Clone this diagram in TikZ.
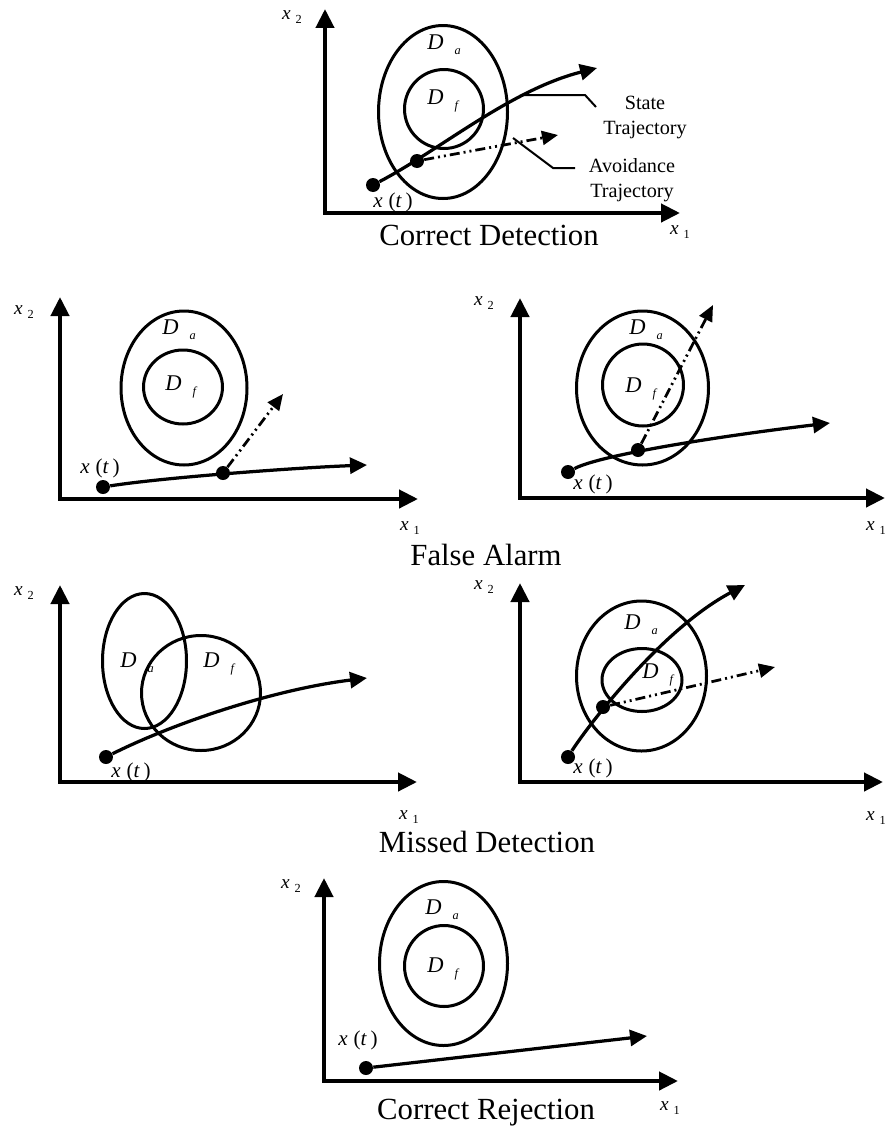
\documentclass[tikz,border=0pt]{standalone}
\usepackage{fontspec}
\setmainfont{Liberation Serif}
\usetikzlibrary{arrows.meta}
\newcommand{\reglbl}[2]{\textit{#1}\hspace{0.22cm}\raisebox{-0.1cm}{\fontsize{7}{8}\selectfont\textit{#2}}}
\newcommand{\axlbl}[1]{\textit{x}\hspace{0.1cm}\raisebox{-0.08cm}{\fontsize{7}{8}\selectfont #1}}
\newcommand{\statelbl}{\textit{x}\;(\textit{t}\,)}
\tikzset{
  axis/.style={line width=0.085cm,line join=miter,{Triangle[length=0.38cm,width=0.36cm]}-{Triangle[length=0.38cm,width=0.36cm]}},
  traj/.style={line width=0.065cm,-{Triangle[length=0.34cm,width=0.32cm]}},
  avoid/.style={line width=0.055cm,dash pattern=on 0.2cm off 0.08cm on 0.04cm off 0.08cm on 0.04cm off 0.08cm,-{Triangle[length=0.32cm,width=0.28cm]}},
  region/.style={line width=0.06cm},
  dot/.style={circle,fill,inner sep=0,minimum size=0.28cm},
  lead/.style={line width=0.04cm},
  reg/.style={anchor=base west,inner sep=0,font=\fontsize{12.8}{14}\selectfont},
  ax/.style={font=\fontsize{11}{12}\selectfont,inner sep=0},
  xt/.style={font=\fontsize{12}{13}\selectfont,inner sep=0},
  caption/.style={font=\fontsize{17.5}{20}\selectfont,inner sep=0},
  note/.style={align=center,font=\fontsize{11.5}{14.2}\selectfont,inner sep=0}
}
\begin{document}
\begin{tikzpicture}[x=0.02cm,y=-0.02cm]
  \fill[white] (0,0) rectangle (888,1136);

  % correct detection
  \coordinate (o1) at (325,213);
  \coordinate (y1) at (325,9);
  \coordinate (x1) at (680,213);
  \draw[axis] (y1) -- (o1) -- (x1);
  \node[ax] (lx21) at (292,17) {\axlbl{2}};
  \node[ax] (lx11) at (680,232) {\axlbl{1}};
  \draw[region] (443,112) ellipse [x radius=64.5,y radius=86.5];
  \draw[region] (444,109) ellipse [x radius=39.5,y radius=39.5];
  \node[reg] (da1) at (427,49.5) {\reglbl{D}{a}};
  \node[reg] (df1) at (427,104.5) {\reglbl{D}{f}};
  \node[dot] (s1) at (373,185) {};
  \node[dot] (m1) at (417,161) {};
  \node[xt] (xt1) at (393,202) {\statelbl};
  \coordinate (e1) at (597,68);
  \coordinate (a1) at (558,135);
  \draw[traj] (s1) .. controls (440,150) and (510,90) .. (e1);
  \draw[avoid] (m1) -- (a1);
  \coordinate (ls) at (522,95);
  \coordinate (la) at (513,138);
  \draw[lead] (ls) -- ++(63,0) -- ++(11,12);
  \draw[lead] (la) -- ++(40,30) -- ++(22,0);
  \node[note] (nst) at (645,117.5) {State\\Trajectory};
  \node[note] (nav) at (632,180.5) {Avoidance\\Trajectory};
  \node[caption] (cap1) at (489,235) {Correct Detection};

  % false alarm, left
  \coordinate (o2) at (60,499);
  \coordinate (y2) at (60,297);
  \coordinate (x2) at (418,499);
  \draw[axis] (y2) -- (o2) -- (x2);
  \node[ax] (lx22) at (24,312) {\axlbl{2}};
  \node[ax] (lx12) at (410,528) {\axlbl{1}};
  \draw[region] (184,388) ellipse [x radius=63,y radius=77];
  \draw[region] (183,387) ellipse [x radius=39.5,y radius=37];
  \node[reg] (da2) at (162,334.5) {\reglbl{D}{a}};
  \node[reg] (df2) at (165,390.5) {\reglbl{D}{f}};
  \node[dot] (s2) at (103,487) {};
  \node[dot] (m2) at (223,473) {};
  \node[xt] (xt2) at (100,468) {\statelbl};
  \coordinate (e2) at (367,465);
  \coordinate (a2) at (283,394);
  \draw[traj] (s2) .. controls (160,478) and (290,468) .. (e2);
  \draw[avoid] (m2) -- (a2);

  % false alarm, right
  \coordinate (o3) at (520,498);
  \coordinate (y3) at (520,298);
  \coordinate (x3) at (885,498);
  \draw[axis] (y3) -- (o3) -- (x3);
  \node[ax] (lx23) at (484,303) {\axlbl{2}};
  \node[ax] (lx13) at (876,528) {\axlbl{1}};
  \draw[region] (642.5,388) ellipse [x radius=66,y radius=77];
  \draw[region] (643,385) ellipse [x radius=40.5,y radius=41];
  \node[reg] (da3) at (629,334.5) {\reglbl{D}{a}};
  \node[reg] (df3) at (625,392.5) {\reglbl{D}{f}};
  \node[dot] (s3) at (568,472) {};
  \node[dot] (m3) at (638,450) {};
  \node[xt] (xt3) at (593,484) {\statelbl};
  \coordinate (e3) at (830,423);
  \coordinate (a3) at (713,305);
  \draw[traj] (s3) .. controls (600,455) and (720,436) .. (e3);
  \draw[avoid] (m3) -- (a3);
  \node[caption] (cap2) at (486,555) {False Alarm};

  % missed detection, left
  \coordinate (o4) at (60,782);
  \coordinate (y4) at (60,585);
  \coordinate (x4) at (417,782);
  \draw[axis] (y4) -- (o4) -- (x4);
  \node[ax] (lx24) at (24,593) {\axlbl{2}};
  \node[ax] (lx14) at (409,817) {\axlbl{1}};
  \draw[region] (144.5,661) ellipse [x radius=42,y radius=67.5];
  \draw[region] (201,693) ellipse [x radius=59.5,y radius=57.5];
  \node[reg] (da4) at (120,667.5) {\reglbl{D}{a}};
  \node[reg] (df4) at (203,667.5) {\reglbl{D}{f}};
  \node[dot] (s4) at (106,757) {};
  \node[xt] (xt4) at (131,772) {\statelbl};
  \coordinate (e4) at (367,678);
  \draw[traj] (s4) .. controls (170,725) and (270,690) .. (e4);

  % missed detection, right
  \coordinate (o5) at (520,782);
  \coordinate (y5) at (520,583);
  \coordinate (x5) at (883,782);
  \draw[axis] (y5) -- (o5) -- (x5);
  \node[ax] (lx25) at (484,587) {\axlbl{2}};
  \node[ax] (lx15) at (876,818) {\axlbl{1}};
  \draw[region] (641.5,676) ellipse [x radius=65,y radius=75];
  \draw[region] (642,680) ellipse [x radius=40,y radius=31.5];
  \node[reg] (da5) at (624,629.5) {\reglbl{D}{a}};
  \node[reg] (df5) at (642,678.5) {\reglbl{D}{f}};
  \node[dot] (s5) at (568,757) {};
  \node[dot] (m5) at (603,707) {};
  \node[xt] (xt5) at (593,768) {\statelbl};
  \coordinate (e5) at (745,585);
  \coordinate (a5) at (775,667);
  \draw[traj] (s5) .. controls (585,730) and (660,630) .. (e5);
  \draw[avoid] (m5) -- (a5);
  \node[caption] (cap3) at (487,842) {Missed Detection};

  % correct rejection
  \coordinate (o6) at (324,1081);
  \coordinate (y6) at (324,878);
  \coordinate (x6) at (678,1081);
  \draw[axis] (y6) -- (o6) -- (x6);
  \node[ax] (lx26) at (291,886) {\axlbl{2}};
  \node[ax] (lx16) at (670,1108) {\axlbl{1}};
  \draw[region] (443.5,963.5) ellipse [x radius=64,y radius=82];
  \draw[region] (444,966) ellipse [x radius=39.5,y radius=40.5];
  \node[reg] (da6) at (425,914.5) {\reglbl{D}{a}};
  \node[reg] (df6) at (427,972.5) {\reglbl{D}{f}};
  \node[dot] (s6) at (366,1068) {};
  \node[xt] (xt6) at (358,1040) {\statelbl};
  \coordinate (e6) at (647,1036);
  \draw[traj] (s6) -- (e6);
  \node[caption] (cap4) at (486,1113) {Correct Rejection};
\end{tikzpicture}
\end{document}
